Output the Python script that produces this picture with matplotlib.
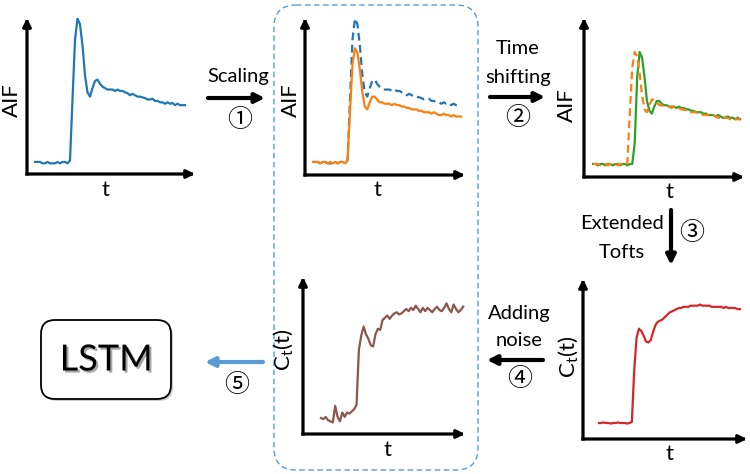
import matplotlib.pyplot as plt
from matplotlib import patheffects
from matplotlib.patches import FancyBboxPatch

W, H = 750, 474

# time samples shared by every curve
t = list(range(61))

# arterial input function (step 0)
aif = [0.00, 0.00, 0.00, -0.01, -0.01, 0.00, -0.01, -0.01, -0.01, 0.00,
       -0.01, 0.00, 0.00, -0.01, 0.01, 0.44, 0.86, 1.01, 0.97, 0.82,
       0.61, 0.49, 0.46, 0.52, 0.57, 0.58, 0.55, 0.53, 0.52, 0.51,
       0.51, 0.51, 0.50, 0.51, 0.50, 0.50, 0.49, 0.485, 0.47, 0.48,
       0.47, 0.46, 0.46, 0.455, 0.45, 0.44, 0.44, 0.445, 0.43, 0.43,
       0.42, 0.42, 0.41, 0.42, 0.41, 0.415, 0.40, 0.41, 0.40, 0.40, 0.40]

# after scaling (step 1)
aif_scaled = [0.00, 0.00, 0.00, -0.01, 0.00, 0.00, -0.01, 0.00, -0.01, 0.00,
              -0.01, 0.00, 0.00, -0.01, 0.01, 0.36, 0.69, 0.80, 0.77, 0.65,
              0.49, 0.39, 0.37, 0.42, 0.46, 0.46, 0.44, 0.42, 0.42, 0.41,
              0.41, 0.41, 0.40, 0.41, 0.40, 0.40, 0.39, 0.39, 0.38, 0.38,
              0.37, 0.37, 0.37, 0.36, 0.36, 0.35, 0.35, 0.35, 0.34, 0.35,
              0.34, 0.33, 0.33, 0.34, 0.33, 0.33, 0.32, 0.33, 0.32, 0.32, 0.32]

# after time shifting (step 2)
aif_shifted = [0.00, 0.00, -0.01, 0.00, 0.00, -0.01, 0.00, 0.00, -0.01, 0.00,
               0.00, -0.01, 0.00, 0.00, -0.01, 0.00, 0.00, 0.15, 0.62, 0.80,
               0.76, 0.62, 0.45, 0.38, 0.36, 0.41, 0.45, 0.45, 0.43, 0.42,
               0.42, 0.41, 0.41, 0.41, 0.40, 0.41, 0.40, 0.40, 0.39, 0.39,
               0.38, 0.38, 0.37, 0.37, 0.37, 0.36, 0.36, 0.35, 0.35, 0.35,
               0.34, 0.35, 0.34, 0.33, 0.33, 0.34, 0.33, 0.33, 0.32, 0.33, 0.32]

# tissue concentration from the extended Tofts model (step 3)
ct = [0.00, 0.00, 0.005, 0.00, 0.00, -0.005, 0.00, 0.00, 0.005, 0.00,
      0.00, 0.00, -0.005, 0.00, 0.01, 0.46, 0.74, 0.82, 0.80, 0.76,
      0.71, 0.70, 0.72, 0.79, 0.85, 0.88, 0.89, 0.90, 0.92, 0.94,
      0.96, 0.97, 0.98, 0.99, 1.00, 1.00, 1.01, 1.01, 1.01, 1.02,
      1.02, 1.02, 1.02, 1.03, 1.02, 1.02, 1.02, 1.02, 1.01, 1.01,
      1.01, 1.01, 1.01, 1.00, 1.01, 1.00, 1.00, 1.00, 1.00, 0.99, 0.99]

# with noise added (step 4)
ct_noisy = [0.00, -0.01, 0.01, -0.02, -0.03, -0.04, 0.11, 0.01, -0.03, 0.05,
            0.01, 0.05, 0.04, 0.06, 0.08, 0.12, 0.62, 0.75, 0.83, 0.76,
            0.72, 0.66, 0.65, 0.76, 0.81, 0.80, 0.89, 0.91, 0.93, 0.90,
            0.93, 0.95, 0.96, 0.94, 0.95, 0.97, 0.99, 0.97, 1.00, 0.98,
            1.02, 0.99, 0.96, 1.00, 0.97, 1.00, 0.98, 0.96, 0.99, 1.01,
            0.98, 0.97, 1.00, 1.04, 0.99, 0.96, 1.03, 0.99, 0.96, 0.98, 1.01]

BLUE, ORANGE, GREEN, RED, BROWN = '#1f77b4', '#ff7f0e', '#2ca02c', '#d62728', '#8c564b'
LIGHT = '#5b9bd5'

plt.rcParams['font.family'] = ['Lato', 'DejaVu Sans']
plt.rcParams['mathtext.fontset'] = 'custom'
plt.rcParams['mathtext.rm'] = 'Lato'

fig = plt.figure(figsize=(7.5, 4.74), dpi=100)
canvas = fig.add_axes([0, 0, 1, 1])
canvas.set_xlim(0, W)
canvas.set_ylim(H, 0)
canvas.axis('off')


def panel(left, top, right, bottom, xlim, ylim):
    ax = fig.add_axes([left / W, 1 - bottom / H, (right - left) / W, (bottom - top) / H])
    ax.set_xlim(*xlim)
    ax.set_ylim(*ylim)
    ax.axis('off')
    arrow = dict(arrowstyle='-|>', color='k', lw=2.3, mutation_scale=12,
                 shrinkA=0, shrinkB=0, capstyle='projecting')
    ax.annotate('', xy=(0, 1), xytext=(0, 0), xycoords='axes fraction', arrowprops=arrow)
    ax.annotate('', xy=(1, 0), xytext=(0, 0), xycoords='axes fraction', arrowprops=arrow)
    return ax


lw = 1.6
dash = (0, (3.5, 2))

ax1 = panel(27, 18, 195, 174, (-3.2, 64), (-0.085, 1.014))
ax1.plot(t, aif, color=BLUE, lw=lw)

ax2 = panel(305, 18, 465, 175, (-3.24, 61.6), (-0.092, 1.014))
ax2.plot(t, aif, color=BLUE, lw=lw, ls=dash)
ax2.plot(t, aif_scaled, color=ORANGE, lw=lw)

ax3 = panel(584, 18, 744, 177, (-3.7, 61.6), (-0.093, 1.043))
ax3.plot(t, aif_shifted, color=GREEN, lw=lw)
ax3.plot(t, aif_scaled, color=ORANGE, lw=lw, ls=dash)

ax4 = panel(583, 279, 747, 439, (-6.8, 63), (-0.139, 1.252))
ax4.plot(t, ct, color=RED, lw=lw)

ax5 = panel(303, 277, 465, 434, (-7.6, 60.8), (-0.145, 1.28))
ax5.plot(t, ct_noisy, color=BROWN, lw=lw)

# axis labels
lab = dict(fontsize=16, ha='center', va='center')
canvas.text(12, 100, 'AIF', rotation=90, **lab)
canvas.text(291, 100, 'AIF', rotation=90, **lab)
canvas.text(567, 105, 'AIF', rotation=90, **lab)
canvas.text(105, 190, 't', **lab)
canvas.text(378, 190, 't', **lab)
canvas.text(670, 192, 't', **lab)
canvas.text(670, 454, 't', **lab)
canvas.text(388, 450, 't', **lab)
canvas.text(569, 357, r'C$_\mathrm{t}$(t)', rotation=90, **lab)
canvas.text(284, 350, r'C$_\mathrm{t}$(t)', rotation=90, **lab)

# dashed frame around the augmented samples
canvas.add_patch(FancyBboxPatch((274, 5), 204, 465, boxstyle='round,pad=0,rounding_size=22',
                                fill=False, ec=LIGHT, lw=1.0, ls=(0, (4, 2.5))))

# LSTM box
box = FancyBboxPatch((41, 320), 130, 79, boxstyle='round,pad=0,rounding_size=14',
                     fc='white', ec='k', lw=1.3)
box.set_path_effects([patheffects.SimplePatchShadow(offset=(1.5, -1.5), alpha=0.25),
                      patheffects.Normal()])
canvas.add_patch(box)
canvas.text(106, 360, 'LSTM', fontsize=26, ha='center', va='center',
            path_effects=[patheffects.SimplePatchShadow(offset=(1.5, -1.5), alpha=0.35),
                          patheffects.Normal()])

# flow arrows
shadow = [patheffects.SimplePatchShadow(offset=(1, -1), alpha=0.3), patheffects.Normal()]


def flow(x0, y0, x1, y1, color='k'):
    canvas.annotate('', xy=(x1, y1), xytext=(x0, y0),
                    arrowprops=dict(arrowstyle='-|>', lw=3.0, color=color, mutation_scale=14,
                                    shrinkA=0, shrinkB=0, path_effects=shadow))


flow(208, 98, 265, 98)
flow(490, 97, 545, 97)
flow(671, 210, 671, 265)
flow(543, 360, 487, 360)
flow(263, 362, 205, 362, color=LIGHT)

txt = dict(fontsize=14.5, ha='center', va='center')
canvas.text(238, 76, 'Scaling', **txt)
canvas.text(518, 48, 'Time', **txt)
canvas.text(518, 77, 'shifting', **txt)
canvas.text(622, 223, 'Extended', **txt)
canvas.text(622, 252, 'Tofts', **txt)
canvas.text(519, 313, 'Adding', **txt)
canvas.text(519, 340, 'noise', **txt)

num = dict(fontsize=18, ha='center', va='center', family=['Noto Sans CJK SC', 'DejaVu Sans'])
canvas.text(240, 120, '①', **num)
canvas.text(518, 118, '②', **num)
canvas.text(692, 233, '③', **num)
canvas.text(520, 379, '④', **num)
canvas.text(237, 385, '⑤', **num)

fig.savefig('out.png', dpi=100)
